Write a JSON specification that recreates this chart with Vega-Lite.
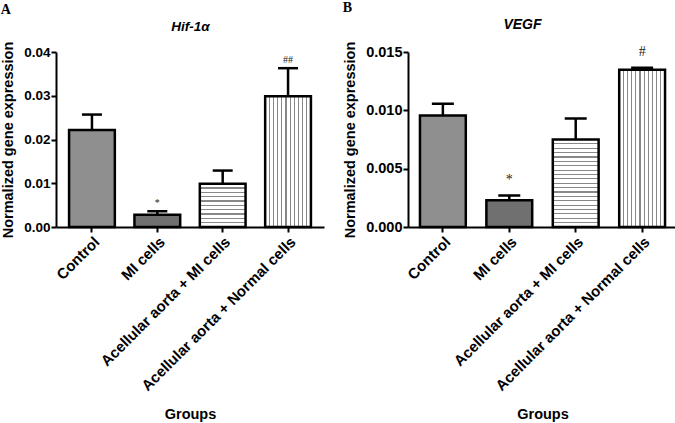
{
  "$schema": "https://vega.github.io/schema/vega-lite/v6.json",
  "padding": {"left": 0, "top": 1, "right": 0, "bottom": 3},
  "background": "white",
  "datasets": {
    "hif": [
      {"group": "Control", "value": 0.0222, "upper": 0.0257, "sig": ""},
      {"group": "MI cells", "value": 0.0028, "upper": 0.0036, "sig": "*"},
      {"group": "Acellular aorta + MI cells", "value": 0.0099, "upper": 0.0129, "sig": ""},
      {"group": "Acellular aorta + Normal cells", "value": 0.0299, "upper": 0.0363, "sig": "##"}
    ],
    "vegf": [
      {"group": "Control", "value": 0.00955, "upper": 0.01057, "sig": ""},
      {"group": "MI cells", "value": 0.0023, "upper": 0.0027, "sig": "*"},
      {"group": "Acellular aorta + MI cells", "value": 0.0075, "upper": 0.0093, "sig": ""},
      {"group": "Acellular aorta + Normal cells", "value": 0.01347, "upper": 0.01365, "sig": "#"}
    ]
  },
  "config": {
    "view": {"stroke": null},
    "concat": {"spacing": 18},
    "axis": {
      "grid": false,
      "domainColor": "black", "domainWidth": 2,
      "tickColor": "black", "tickWidth": 2, "tickSize": 5,
      "labelFont": "Liberation Sans", "labelFontWeight": "bold", "labelColor": "black", "labelFontSize": 13.5,
      "titleFont": "Liberation Sans", "titleFontWeight": "bold", "titleColor": "black", "titleFontSize": 14.5
    }
  },
  "hconcat": [
    {
      "width": 268, "height": 175,
      "data": {"name": "hif"},
      "title": {"text": "A", "anchor": "start", "frame": "bounds", "font": "Liberation Serif", "fontSize": 14, "fontWeight": "bold", "color": "black", "offset": 2},
      "resolve": {"axis": {"x": "independent"}},
      "layer": [
        {
          "encoding": {
            "x": {"field": "group", "type": "nominal",
              "sort": ["Control", "MI cells", "Acellular aorta + MI cells", "Acellular aorta + Normal cells"],
              "scale": {"paddingInner": 0.3, "paddingOuter": 0.2},
              "axis": {"title": "Groups", "labelAngle": -45, "labelFontSize": 15, "labelPadding": 2, "labelLimit": 400, "titlePadding": 14}},
            "y": {"field": "value", "type": "quantitative", "title": "Normalized gene expression",
              "scale": {"domain": [0, 0.04], "nice": false},
              "axis": {"values": [0, 0.01, 0.02, 0.03, 0.04], "format": ".2f", "labelPadding": 1, "titlePadding": 8}}
          },
          "layer": [
            {"transform": [{"filter": "datum.group === 'Control'"}],
             "mark": {"type": "bar", "fill": "#8f8f8f", "stroke": "black", "strokeWidth": 2.5}},
            {"transform": [{"filter": "datum.group === 'MI cells'"}],
             "mark": {"type": "bar", "fill": "#707070", "stroke": "black", "strokeWidth": 2.5}},
            {"transform": [{"filter": "datum.group === 'Acellular aorta + MI cells'"}],
             "mark": {"type": "bar", "stroke": "black", "strokeWidth": 2.5,
               "fill": {"gradient": "linear", "x1": 0, "y1": 0, "x2": 0, "y2": 1, "stops": [
                 {"offset": 0, "color": "#fff"},
                 {"offset": 0.085, "color": "#fff"}, {"offset": 0.085, "color": "#888"}, {"offset": 0.115, "color": "#888"}, {"offset": 0.115, "color": "#fff"},
                 {"offset": 0.185, "color": "#fff"}, {"offset": 0.185, "color": "#888"}, {"offset": 0.215, "color": "#888"}, {"offset": 0.215, "color": "#fff"},
                 {"offset": 0.285, "color": "#fff"}, {"offset": 0.285, "color": "#888"}, {"offset": 0.315, "color": "#888"}, {"offset": 0.315, "color": "#fff"},
                 {"offset": 0.385, "color": "#fff"}, {"offset": 0.385, "color": "#888"}, {"offset": 0.415, "color": "#888"}, {"offset": 0.415, "color": "#fff"},
                 {"offset": 0.485, "color": "#fff"}, {"offset": 0.485, "color": "#888"}, {"offset": 0.515, "color": "#888"}, {"offset": 0.515, "color": "#fff"},
                 {"offset": 0.585, "color": "#fff"}, {"offset": 0.585, "color": "#888"}, {"offset": 0.615, "color": "#888"}, {"offset": 0.615, "color": "#fff"},
                 {"offset": 0.685, "color": "#fff"}, {"offset": 0.685, "color": "#888"}, {"offset": 0.715, "color": "#888"}, {"offset": 0.715, "color": "#fff"},
                 {"offset": 0.785, "color": "#fff"}, {"offset": 0.785, "color": "#888"}, {"offset": 0.815, "color": "#888"}, {"offset": 0.815, "color": "#fff"},
                 {"offset": 0.885, "color": "#fff"}, {"offset": 0.885, "color": "#888"}, {"offset": 0.915, "color": "#888"}, {"offset": 0.915, "color": "#fff"},
                 {"offset": 1, "color": "#fff"}]}}},
            {"transform": [{"filter": "datum.group === 'Acellular aorta + Normal cells'"}],
             "mark": {"type": "bar", "stroke": "black", "strokeWidth": 2.5,
               "fill": {"gradient": "linear", "x1": 0, "y1": 0, "x2": 1, "y2": 0, "stops": [
                 {"offset": 0, "color": "#fff"},
                 {"offset": 0.078, "color": "#fff"}, {"offset": 0.078, "color": "#888"}, {"offset": 0.104, "color": "#888"}, {"offset": 0.104, "color": "#fff"},
                 {"offset": 0.169, "color": "#fff"}, {"offset": 0.169, "color": "#888"}, {"offset": 0.195, "color": "#888"}, {"offset": 0.195, "color": "#fff"},
                 {"offset": 0.26, "color": "#fff"}, {"offset": 0.26, "color": "#888"}, {"offset": 0.286, "color": "#888"}, {"offset": 0.286, "color": "#fff"},
                 {"offset": 0.351, "color": "#fff"}, {"offset": 0.351, "color": "#888"}, {"offset": 0.377, "color": "#888"}, {"offset": 0.377, "color": "#fff"},
                 {"offset": 0.442, "color": "#fff"}, {"offset": 0.442, "color": "#888"}, {"offset": 0.468, "color": "#888"}, {"offset": 0.468, "color": "#fff"},
                 {"offset": 0.533, "color": "#fff"}, {"offset": 0.533, "color": "#888"}, {"offset": 0.559, "color": "#888"}, {"offset": 0.559, "color": "#fff"},
                 {"offset": 0.624, "color": "#fff"}, {"offset": 0.624, "color": "#888"}, {"offset": 0.65, "color": "#888"}, {"offset": 0.65, "color": "#fff"},
                 {"offset": 0.714, "color": "#fff"}, {"offset": 0.714, "color": "#888"}, {"offset": 0.74, "color": "#888"}, {"offset": 0.74, "color": "#fff"},
                 {"offset": 0.805, "color": "#fff"}, {"offset": 0.805, "color": "#888"}, {"offset": 0.831, "color": "#888"}, {"offset": 0.831, "color": "#fff"},
                 {"offset": 0.896, "color": "#fff"}, {"offset": 0.896, "color": "#888"}, {"offset": 0.922, "color": "#888"}, {"offset": 0.922, "color": "#fff"},
                 {"offset": 1, "color": "#fff"}]}}},
            {"mark": {"type": "rule", "color": "black", "strokeWidth": 2.5},
             "encoding": {"y2": {"field": "upper"}}},
            {"mark": {"type": "tick", "color": "black", "size": 20, "thickness": 2.5, "opacity": 1},
             "encoding": {"y": {"field": "upper", "type": "quantitative", "title": "Normalized gene expression"}}}
          ]
        },
        {
          "mark": {"type": "text", "font": "Liberation Serif", "fontSize": 10, "color": "#222", "baseline": "middle", "dy": -8},
          "encoding": {
            "x": {"field": "group", "type": "nominal",
              "sort": ["Control", "MI cells", "Acellular aorta + MI cells", "Acellular aorta + Normal cells"],
              "axis": {"orient": "top", "title": "Hif-1α", "labels": false, "ticks": false, "domain": false, "titleFontStyle": "italic", "titleFontSize": 13.5, "titlePadding": 19}},
            "y": {"field": "upper", "type": "quantitative", "title": "Normalized gene expression"},
            "text": {"field": "sig"}
          }
        }
      ]
    },
    {
      "width": 269, "height": 175,
      "data": {"name": "vegf"},
      "title": {"text": "B", "anchor": "start", "frame": "bounds", "font": "Liberation Serif", "fontSize": 14, "fontWeight": "bold", "color": "black", "offset": 2},
      "resolve": {"axis": {"x": "independent"}},
      "layer": [
        {
          "encoding": {
            "x": {"field": "group", "type": "nominal",
              "sort": ["Control", "MI cells", "Acellular aorta + MI cells", "Acellular aorta + Normal cells"],
              "scale": {"paddingInner": 0.31, "paddingOuter": 0.18},
              "axis": {"title": "Groups", "labelAngle": -45, "labelFontSize": 15, "labelPadding": 2, "labelLimit": 400, "titlePadding": 14}},
            "y": {"field": "value", "type": "quantitative", "title": "Normalized gene expression",
              "scale": {"domain": [0, 0.015], "nice": false},
              "axis": {"values": [0, 0.005, 0.01, 0.015], "format": ".3f", "labelFontSize": 14.5, "labelPadding": 1, "titlePadding": 8}}
          },
          "layer": [
            {"transform": [{"filter": "datum.group === 'Control'"}],
             "mark": {"type": "bar", "fill": "#8f8f8f", "stroke": "black", "strokeWidth": 2.5}},
            {"transform": [{"filter": "datum.group === 'MI cells'"}],
             "mark": {"type": "bar", "fill": "#707070", "stroke": "black", "strokeWidth": 2.5}},
            {"transform": [{"filter": "datum.group === 'Acellular aorta + MI cells'"}],
             "mark": {"type": "bar", "stroke": "black", "strokeWidth": 2.5,
               "fill": {"gradient": "linear", "x1": 0, "y1": 0, "x2": 0, "y2": 1, "stops": [
                 {"offset": 0, "color": "#fff"},
                 {"offset": 0.043, "color": "#fff"}, {"offset": 0.043, "color": "#888"}, {"offset": 0.057, "color": "#888"}, {"offset": 0.057, "color": "#fff"},
                 {"offset": 0.093, "color": "#fff"}, {"offset": 0.093, "color": "#888"}, {"offset": 0.107, "color": "#888"}, {"offset": 0.107, "color": "#fff"},
                 {"offset": 0.143, "color": "#fff"}, {"offset": 0.143, "color": "#888"}, {"offset": 0.157, "color": "#888"}, {"offset": 0.157, "color": "#fff"},
                 {"offset": 0.193, "color": "#fff"}, {"offset": 0.193, "color": "#888"}, {"offset": 0.207, "color": "#888"}, {"offset": 0.207, "color": "#fff"},
                 {"offset": 0.243, "color": "#fff"}, {"offset": 0.243, "color": "#888"}, {"offset": 0.257, "color": "#888"}, {"offset": 0.257, "color": "#fff"},
                 {"offset": 0.293, "color": "#fff"}, {"offset": 0.293, "color": "#888"}, {"offset": 0.307, "color": "#888"}, {"offset": 0.307, "color": "#fff"},
                 {"offset": 0.343, "color": "#fff"}, {"offset": 0.343, "color": "#888"}, {"offset": 0.357, "color": "#888"}, {"offset": 0.357, "color": "#fff"},
                 {"offset": 0.393, "color": "#fff"}, {"offset": 0.393, "color": "#888"}, {"offset": 0.407, "color": "#888"}, {"offset": 0.407, "color": "#fff"},
                 {"offset": 0.443, "color": "#fff"}, {"offset": 0.443, "color": "#888"}, {"offset": 0.457, "color": "#888"}, {"offset": 0.457, "color": "#fff"},
                 {"offset": 0.493, "color": "#fff"}, {"offset": 0.493, "color": "#888"}, {"offset": 0.507, "color": "#888"}, {"offset": 0.507, "color": "#fff"},
                 {"offset": 0.543, "color": "#fff"}, {"offset": 0.543, "color": "#888"}, {"offset": 0.557, "color": "#888"}, {"offset": 0.557, "color": "#fff"},
                 {"offset": 0.593, "color": "#fff"}, {"offset": 0.593, "color": "#888"}, {"offset": 0.607, "color": "#888"}, {"offset": 0.607, "color": "#fff"},
                 {"offset": 0.643, "color": "#fff"}, {"offset": 0.643, "color": "#888"}, {"offset": 0.657, "color": "#888"}, {"offset": 0.657, "color": "#fff"},
                 {"offset": 0.693, "color": "#fff"}, {"offset": 0.693, "color": "#888"}, {"offset": 0.707, "color": "#888"}, {"offset": 0.707, "color": "#fff"},
                 {"offset": 0.743, "color": "#fff"}, {"offset": 0.743, "color": "#888"}, {"offset": 0.757, "color": "#888"}, {"offset": 0.757, "color": "#fff"},
                 {"offset": 0.793, "color": "#fff"}, {"offset": 0.793, "color": "#888"}, {"offset": 0.807, "color": "#888"}, {"offset": 0.807, "color": "#fff"},
                 {"offset": 0.843, "color": "#fff"}, {"offset": 0.843, "color": "#888"}, {"offset": 0.857, "color": "#888"}, {"offset": 0.857, "color": "#fff"},
                 {"offset": 0.893, "color": "#fff"}, {"offset": 0.893, "color": "#888"}, {"offset": 0.907, "color": "#888"}, {"offset": 0.907, "color": "#fff"},
                 {"offset": 0.943, "color": "#fff"}, {"offset": 0.943, "color": "#888"}, {"offset": 0.957, "color": "#888"}, {"offset": 0.957, "color": "#fff"},
                 {"offset": 1, "color": "#fff"}]}}},
            {"transform": [{"filter": "datum.group === 'Acellular aorta + Normal cells'"}],
             "mark": {"type": "bar", "stroke": "black", "strokeWidth": 2.5,
               "fill": {"gradient": "linear", "x1": 0, "y1": 0, "x2": 1, "y2": 0, "stops": [
                 {"offset": 0, "color": "#fff"},
                 {"offset": 0.078, "color": "#fff"}, {"offset": 0.078, "color": "#888"}, {"offset": 0.104, "color": "#888"}, {"offset": 0.104, "color": "#fff"},
                 {"offset": 0.169, "color": "#fff"}, {"offset": 0.169, "color": "#888"}, {"offset": 0.195, "color": "#888"}, {"offset": 0.195, "color": "#fff"},
                 {"offset": 0.26, "color": "#fff"}, {"offset": 0.26, "color": "#888"}, {"offset": 0.286, "color": "#888"}, {"offset": 0.286, "color": "#fff"},
                 {"offset": 0.351, "color": "#fff"}, {"offset": 0.351, "color": "#888"}, {"offset": 0.377, "color": "#888"}, {"offset": 0.377, "color": "#fff"},
                 {"offset": 0.442, "color": "#fff"}, {"offset": 0.442, "color": "#888"}, {"offset": 0.468, "color": "#888"}, {"offset": 0.468, "color": "#fff"},
                 {"offset": 0.533, "color": "#fff"}, {"offset": 0.533, "color": "#888"}, {"offset": 0.559, "color": "#888"}, {"offset": 0.559, "color": "#fff"},
                 {"offset": 0.624, "color": "#fff"}, {"offset": 0.624, "color": "#888"}, {"offset": 0.65, "color": "#888"}, {"offset": 0.65, "color": "#fff"},
                 {"offset": 0.714, "color": "#fff"}, {"offset": 0.714, "color": "#888"}, {"offset": 0.74, "color": "#888"}, {"offset": 0.74, "color": "#fff"},
                 {"offset": 0.805, "color": "#fff"}, {"offset": 0.805, "color": "#888"}, {"offset": 0.831, "color": "#888"}, {"offset": 0.831, "color": "#fff"},
                 {"offset": 0.896, "color": "#fff"}, {"offset": 0.896, "color": "#888"}, {"offset": 0.922, "color": "#888"}, {"offset": 0.922, "color": "#fff"},
                 {"offset": 1, "color": "#fff"}]}}},
            {"mark": {"type": "rule", "color": "black", "strokeWidth": 2.5},
             "encoding": {"y2": {"field": "upper"}}},
            {"mark": {"type": "tick", "color": "black", "size": 22, "thickness": 2.5, "opacity": 1},
             "encoding": {"y": {"field": "upper", "type": "quantitative", "title": "Normalized gene expression"}}}
          ]
        },
        {
          "mark": {"type": "text", "font": "Liberation Serif", "fontSize": 14, "color": "#222", "baseline": "middle", "dy": -16},
          "encoding": {
            "x": {"field": "group", "type": "nominal",
              "sort": ["Control", "MI cells", "Acellular aorta + MI cells", "Acellular aorta + Normal cells"],
              "axis": {"orient": "top", "title": "VEGF", "labels": false, "ticks": false, "domain": false, "titleFontStyle": "italic", "titleFontSize": 14, "titlePadding": 21, "titleX": 114, "titleAlign": "center"}},
            "y": {"field": "upper", "type": "quantitative", "title": "Normalized gene expression"},
            "text": {"field": "sig"}
          }
        }
      ]
    }
  ]
}
